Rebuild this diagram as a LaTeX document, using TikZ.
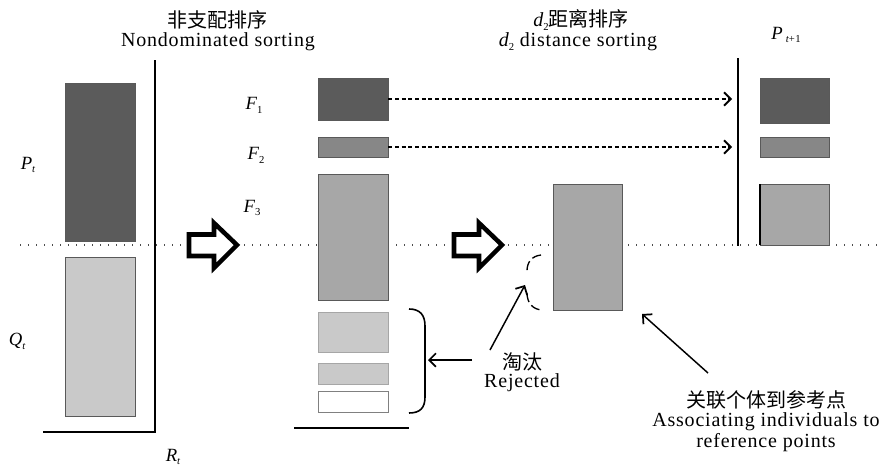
\documentclass[tikz,border=0pt]{standalone}
\usepackage{fontspec}
\setmainfont[LetterSpace=4]{Liberation Serif}
\newfontfamily\cjk{Noto Sans CJK SC}
\usetikzlibrary{arrows.meta,fit}
\definecolor{gdark}{HTML}{5B5B5B}
\definecolor{gmid}{HTML}{878787}
\definecolor{ggray}{HTML}{A7A7A7}
\definecolor{glight}{HTML}{C9C9C9}
\newcommand{\mysub}[1]{\raisebox{-0.45ex}{\fontsize{8}{8}\selectfont #1}}
\begin{document}
\begin{tikzpicture}[x=0.75pt,y=-0.75pt,
  box/.style={inner sep=0pt, draw=black!65, line width=0.6pt},
  lbl/.style={font=\fontsize{15}{18}\selectfont, inner sep=0pt},
  zh/.style={font=\fontsize{15}{18}\selectfont\cjk, inner sep=0pt},
  var/.style={font=\fontsize{14}{16}\selectfont\itshape, inner sep=0pt},
  frame/.style={line width=1.9pt},
  dotline/.style={line width=1pt, dash pattern=on 1pt off 5pt, black!70},
  dasharrow/.style={line width=1pt, dash pattern=on 3pt off 2pt, -{Straight Barb[length=5pt,width=10pt,line width=1.4pt]}},
  solidarrow/.style={line width=1.1pt, -{Straight Barb[length=5pt,width=10pt,line width=1.3pt]}},
  blockarrow/.style={line width=3.4pt, line join=miter, miter limit=10, fill=white},
  halfarc/.style={line width=1pt, dash pattern=on 7pt off 3pt}
]
\useasboundingbox (0,0) rectangle (883,468);

% dotted separator
\draw[dotline] (20,245) -- (883,245);

% titles
\node[zh] (t1zh) at (217,20) {非支配排序};
\node[lbl] (t1en) at (218,42) {Nondominated sorting};
\node[lbl] (t2zh) at (581,20) {{\itshape d}\mysub{2}{\cjk 距离排序}};
\node[lbl] (t2en) at (578,42) {{\itshape d}\mysub{2} distance sorting};

% R_t block
\node[box, fill=gdark, fit={(65,83) (135,241)}] (Pt) {};
\node[box, fill=glight, fit={(65,257) (135,416)}] (Qt) {};
\draw[frame] (155,60) -- (155,432) -- (43,432);
\node[var] (Ptl) at (28,165) {P\mysub{\itshape t}};
\node[var] (Qtl) at (17,341) {Q\mysub{\itshape t}};
\node[var] (Rtl) at (173,457) {R\mysub{\itshape t}};

% block arrows
\draw[blockarrow] (189,234.5) -- (214,234.5) -- (214,223) -- (237,245) -- (214,268) -- (214,256) -- (189,256) -- cycle;
\draw[blockarrow] (454,234.5) -- (479,234.5) -- (479,223) -- (502,245) -- (479,268) -- (479,256) -- (454,256) -- cycle;

% fronts
\node[box, fill=gdark, fit={(318,78) (388,120)}] (F1b) {};
\node[box, fill=gmid, fit={(318,137) (388,157)}] (F2b) {};
\node[box, fill=ggray, fit={(318,174) (388,300)}] (F3b) {};
\node[box, fill=glight, draw=black!35, fit={(318,312) (388,352)}] (R1b) {};
\node[box, fill=glight, draw=black!35, fit={(318,363) (388,384)}] (R2b) {};
\node[box, fill=white, draw=black!50, fit={(318,391) (388,412)}] (R3b) {};
\draw[line width=1.5pt] (294,428) -- (409,428);
\node[var] (F1l) at (254,105) {F\mysub{\upshape 1}};
\node[var] (F2l) at (256,155) {F\mysub{\upshape 2}};
\node[var] (F3l) at (252,208) {F\mysub{\upshape 3}};

% bracket
\draw[line width=1.2pt] (409,309) .. controls (420,309) and (425,315) .. (425,326) -- (425,397) .. controls (425,408) and (420,413) .. (409,413);

% d2 sorted box
\node[box, fill=ggray, fit={(553,184) (622,310)}] (Db) {};
\draw[halfarc] (541,255) .. controls (532,256) and (527,262) .. (527,271);
\draw[halfarc] (527,293) .. controls (527,303) and (533,310) .. (543,310);

% P_{t+1}
\draw[line width=1.5pt] (738,58) -- (738,246);
\node[box, fill=gdark, fit={(760,78) (829,123)}] (N1b) {};
\node[box, fill=gmid, fit={(760,137) (829,157)}] (N2b) {};
\node[box, fill=ggray, fit={(760,184) (829,245)}] (N3b) {};
\draw[line width=1.2pt] (760,184) -- (760,245);
\node[var] (Pnl) at (786,35) {P\,\mysub{\itshape t\upshape +1}};

% dashed arrows
\coordinate (a1) at (732,99);
\coordinate (a2) at (732,147);
\draw[dasharrow] (F1b.east) -- (a1);
\draw[dasharrow] (F2b.east) -- (a2);

% rejected
\node[zh] (rejzh) at (522,362) {淘汰};
\node[lbl] (rejen) at (522,383) {Rejected};
\coordinate (rs1) at (472,360);
\coordinate (re1) at (428,360);
\draw[solidarrow] (rs1) -- (re1);
\coordinate (rs2) at (490,350);
\coordinate (re2) at (525,285);
\draw[solidarrow] (rs2) -- (re2);

% associating
\node[zh] (aszh) at (766,400) {关联个体到参考点};
\node[lbl] (asen1) at (766,422) {Associating individuals to};
\node[lbl] (asen2) at (766,443) {reference points};
\coordinate (as) at (708,373);
\coordinate (ae) at (642,314);
\draw[solidarrow] (as) -- (ae);
\end{tikzpicture}
\end{document}
